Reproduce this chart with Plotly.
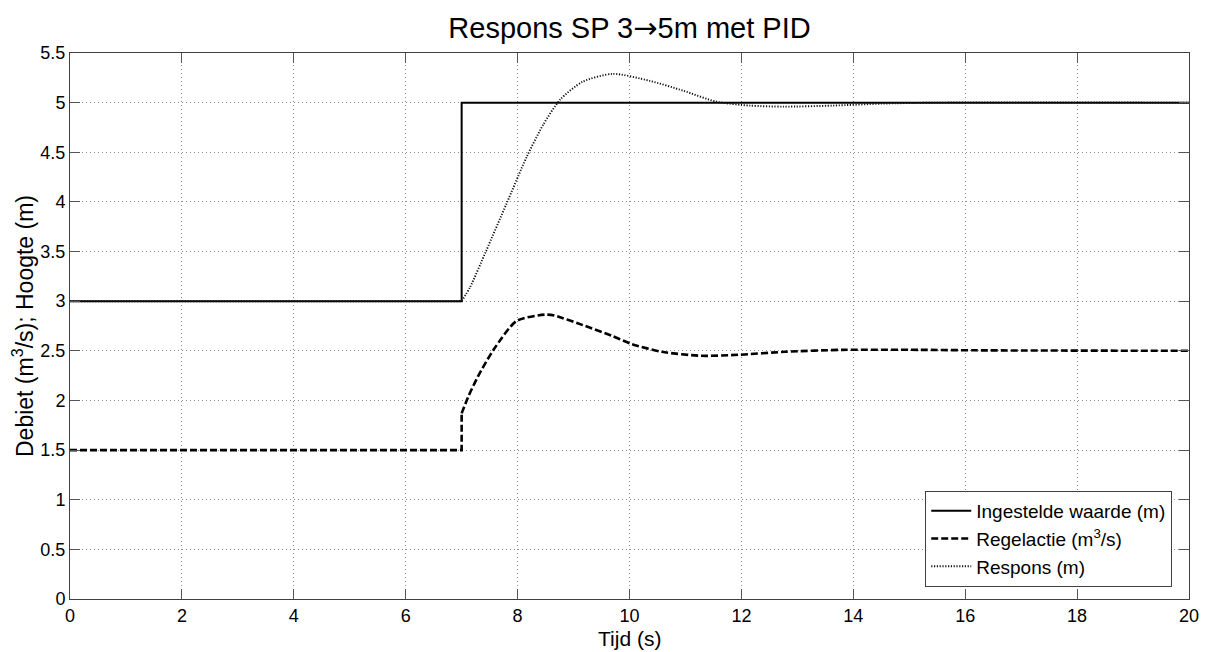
import plotly.graph_objects as go

# --- data ---
t_sp = [0, 7, 7, 20]
sp = [3, 3, 5, 5]

# Regelactie: flat part + jump, then the smooth response part
t_regel_flat = [0, 7, 7]
regel_flat = [1.5, 1.5, 1.87]
t_regel = [7, 7.12, 7.29, 7.57, 7.98, 8.49, 8.66, 9.21, 9.69, 10.03, 10.58, 11.27,
           11.95, 12.77, 13.8, 15.17, 16.2, 20]
regel = [1.87, 2.04, 2.24, 2.51, 2.80, 2.865, 2.855, 2.75, 2.65, 2.57, 2.49, 2.45,
         2.46, 2.49, 2.51, 2.51, 2.505, 2.5]

# Respons: flat part, then the smooth response
t_resp_flat = [0, 7]
resp_flat = [3, 3]
t_resp = [7, 7.15, 7.44, 7.8, 8.16, 8.46, 8.76, 9.16, 9.7, 10.36, 10.96, 11.55,
          12.15, 12.75, 13.64, 14.5, 15.5, 20]
resp = [3, 3.14, 3.51, 3.98, 4.45, 4.78, 5.03, 5.21, 5.29, 5.22, 5.12, 5.01,
        4.97, 4.96, 4.97, 4.99, 5.0, 5.0]

FONT = "Liberation Sans, Arial, sans-serif"

regel_line = dict(color="black", width=2.6, dash="7px,3px")
resp_line = dict(color="#111111", width=1.9, dash="1.2px,1.6px")

fig = go.Figure()
fig.add_trace(go.Scatter(x=t_sp, y=sp, mode="lines", name="Ingestelde waarde (m)",
                         line=dict(color="black", width=2)))
fig.add_trace(go.Scatter(x=t_regel_flat, y=regel_flat, mode="lines", name="Regelactie (m<sup>3</sup>/s)",
                         legendgroup="regel", line=regel_line))
fig.add_trace(go.Scatter(x=t_regel, y=regel, mode="lines", legendgroup="regel", showlegend=False,
                         line=dict(shape="spline", smoothing=0.7, **regel_line)))
fig.add_trace(go.Scatter(x=t_resp_flat, y=resp_flat, mode="lines", name="Respons (m)",
                         legendgroup="resp", line=resp_line))
fig.add_trace(go.Scatter(x=t_resp, y=resp, mode="lines", legendgroup="resp", showlegend=False,
                         line=dict(shape="spline", smoothing=0.7, **resp_line)))

axis_style = dict(
    showline=True, linecolor="#404040", linewidth=1, mirror="allticks",
    ticks="inside", ticklen=10, tickcolor="#555555",
    showgrid=True, gridcolor="#8c8c8c", griddash="1px,3px", gridwidth=1,
    zeroline=False, automargin=False, tickfont=dict(size=18, color="black", family=FONT),
)

fig.update_xaxes(range=[0, 20], dtick=2, **axis_style)
fig.update_yaxes(range=[0, 5.5], dtick=0.5,
                 title=dict(text="Debiet (m<sup>3</sup>/s); Hoogte (m)", font=dict(size=23), standoff=4),
                 **axis_style)

# x-axis title as annotation (axis title would collide with tick labels without automargin)
fig.add_annotation(text="Tijd (s)", x=0.5, xref="paper", y=-0.072, yref="paper",
                   yanchor="middle", showarrow=False, font=dict(size=21))

# the page adds an 8px body margin, so the figure is shifted by 8px
fig.update_layout(
    width=1193, height=644,
    paper_bgcolor="white", plot_bgcolor="white",
    font=dict(family=FONT, color="black"),
    margin=dict(l=62, r=12, t=45, b=53),
    title=dict(text='Respons SP 3<span style="font-family:DejaVu Sans">\u2192</span>5m met PID',
               x=0.5, xref="paper", y=0.969, yanchor="middle",
               font=dict(size=29)),
    legend=dict(x=0.985, y=0.022, xanchor="right", yanchor="bottom",
                bgcolor="white", bordercolor="#404040", borderwidth=1,
                font=dict(size=19), itemwidth=40, tracegroupgap=0),
    showlegend=True,
)

fig.write_html("out.html")
